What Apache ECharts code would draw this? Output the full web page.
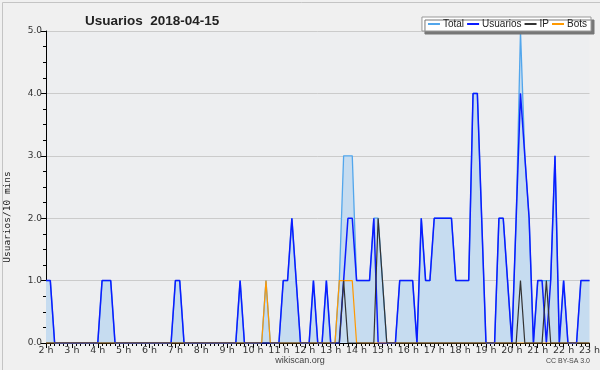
<!DOCTYPE html>
<html>
<head>
<meta charset="utf-8">
<script src="https://cdn.jsdelivr.net/npm/echarts@6/dist/echarts.min.js"></script>
<style>
html,body{margin:0;padding:0;background:#f0f0f0;}
#c{width:600px;height:370px;}
</style>
</head>
<body>
<div id="c"></div>
<script>
// Hours shown on the x axis (each hour has 6 ten-minute slots)
const hours = [2,3,4,5,6,7,8,9,10,11,12,13,14,15,16,17,18,19,20,21,22,23];
const yTicks = [0,1,2,3,4,5];

// Usuarios per 10 minutes, one row per hour
const usuarios = [
  1,1,0,0,0,0,   // 2h
  0,0,0,0,0,0,   // 3h
  0,1,1,1,0,0,   // 4h
  0,0,0,0,0,0,   // 5h
  0,0,0,0,0,0,   // 6h
  1,1,0,0,0,0,   // 7h
  0,0,0,0,0,0,   // 8h
  0,0,0,1,0,0,   // 9h
  0,0,0,0,0,0,   // 10h
  0,1,1,2,1,0,   // 11h
  0,0,1,0,0,1,   // 12h
  0,0,0,1,2,2,   // 13h
  1,1,1,1,2,0,   // 14h
  0,0,0,0,1,1,   // 15h
  1,1,0,2,1,1,   // 16h
  2,2,2,2,2,1,   // 17h
  1,1,1,4,4,2,   // 18h
  0,0,0,2,2,1,   // 19h
  0,2,4,3,2,0,   // 20h
  1,1,0,1,3,0,   // 21h
  1,0,0,0,1,1,   // 22h
  1              // 23h
];
const ip = [
  0,0,0,0,0,0,  0,0,0,0,0,0,  0,0,0,0,0,0,  0,0,0,0,0,0,
  0,0,0,0,0,0,  0,0,0,0,0,0,  0,0,0,0,0,0,  0,0,0,0,0,0,
  0,0,0,0,0,0,  0,0,0,0,0,0,  0,0,0,0,0,0,
  0,0,0,1,0,0,   // 13h
  0,0,0,0,0,2,   // 14h
  1,0,0,0,0,0,   // 15h
  0,0,0,0,0,0,  0,0,0,0,0,0,  0,0,0,0,0,0,  0,0,0,0,0,0,
  0,0,1,0,0,0,   // 20h
  0,0,1,0,0,0,   // 21h
  0,0,0,0,0,0,
  0
];
const bots = [
  0,0,0,0,0,0,  0,0,0,0,0,0,  0,0,0,0,0,0,  0,0,0,0,0,0,
  0,0,0,0,0,0,  0,0,0,0,0,0,  0,0,0,0,0,0,  0,0,0,0,0,0,
  0,0,0,1,0,0,   // 10h
  0,0,0,0,0,0,  0,0,0,0,0,0,
  0,0,1,1,1,1,   // 13h
  0,0,0,0,0,0,  0,0,0,0,0,0,  0,0,0,0,0,0,  0,0,0,0,0,0,
  0,0,0,0,0,0,  0,0,0,0,0,0,  0,0,0,0,0,0,  0,0,0,0,0,0,
  0,0,0,0,0,0,
  0
];
const total = [
  1,1,0,0,0,0,   // 2h
  0,0,0,0,0,0,   // 3h
  0,1,1,1,0,0,   // 4h
  0,0,0,0,0,0,   // 5h
  0,0,0,0,0,0,   // 6h
  1,1,0,0,0,0,   // 7h
  0,0,0,0,0,0,   // 8h
  0,0,0,1,0,0,   // 9h
  0,0,0,1,0,0,   // 10h
  0,1,1,2,1,0,   // 11h
  0,0,1,0,0,1,   // 12h
  0,0,1,3,3,3,   // 13h
  1,1,1,1,2,2,   // 14h
  1,0,0,0,1,1,   // 15h
  1,1,0,2,1,1,   // 16h
  2,2,2,2,2,1,   // 17h
  1,1,1,4,4,2,   // 18h
  0,0,0,2,2,1,   // 19h
  0,2,5,3,2,0,   // 20h
  1,1,1,1,3,0,   // 21h
  1,0,0,0,1,1,   // 22h
  1              // 23h
];

const times = [];
hours.forEach(function(h){
  for (let m = 0; m < 60; m += 10) {
    if (h === hours[hours.length-1] && m > 0) break;
    times.push(h + ':' + (m < 10 ? '0' + m : m));
  }
});

const chart = echarts.init(document.getElementById('c'), null, {renderer:'canvas'});
const isHour = function(i){ return i % 6 === 0; };

chart.setOption({
  animation: false,
  backgroundColor: '#f0f0f0',
  textStyle: {fontFamily: 'Liberation Sans'},
  title: {
    text: 'Usuarios  2018-04-15',
    left: 80, top: 9,
    textStyle: {fontFamily:'Liberation Sans', fontWeight:'bold', fontSize:13.5, color:'#222'}
  },
  legend: {
    right: 9, top: 17,
    itemWidth: 12, itemHeight: 2, itemGap: 3,
    padding: [2, 4, 2, 6],
    backgroundColor: '#ffffff',
    borderColor: '#999', borderWidth: 1,
    shadowColor: '#777', shadowOffsetX: 3, shadowOffsetY: 3, shadowBlur: 0,
    textStyle: {fontFamily:'Liberation Sans', fontSize:10, color:'#222', padding:[0,0,0,-2]},
    icon: 'rect',
    data: ['Total','Usuarios','IP','Bots']
  },
  grid: {left: 46, right: 10.5, top: 31, bottom: 27, show: true, backgroundColor: '#edeef0', borderWidth: 0,
    containLabel: false, outerBoundsMode: 'none'},
  xAxis: [{
    type: 'category', data: times, boundaryGap: false,
    axisLine: {lineStyle: {color:'#000', width:1}},
    axisTick: {interval: function(i){ return isHour(i); }, length: 5, lineStyle:{color:'#000'}},
    axisLabel: {interval: function(i){ return isHour(i); }, formatter: function(v){ return parseInt(v,10) + ' h'; },
      fontFamily:'DejaVu Sans', fontSize: 9.5, color:'#333', margin: 3},
    splitLine: {show:false}
  },{
    type: 'category', data: times, boundaryGap: false, position: 'bottom',
    axisLine: {show:false},
    axisTick: {interval: 0, length: 3, lineStyle:{color:'#000'}},
    axisLabel: {show:false},
    splitLine: {show:false}
  }],
  yAxis: {
    type: 'value', min: yTicks[0], max: yTicks[yTicks.length-1], interval: 1,
    name: 'Usuarios/10 mins', nameLocation: 'middle', nameGap: 33, nameRotate: 90,
    nameTextStyle: {fontFamily:'DejaVu Sans Mono', fontSize: 9.5, color:'#222', padding:[0,0,0,-60]},
    axisLine: {show:true, lineStyle:{color:'#000'}},
    axisTick: {show:true, length: 5, lineStyle:{color:'#000'}},
    minorTick: {show:true, splitNumber: 4, length: 3, lineStyle:{color:'#000'}},
    axisLabel: {formatter: function(v){ return v.toFixed(1); }, fontFamily:'DejaVu Sans', fontSize: 9, color:'#333', margin: 4},
    splitLine: {lineStyle:{color:'#cbcbcb', width:1}},
    minorSplitLine: {show:false}
  },
  series: [
    {name:'Total', type:'line', data: total, symbol:'none', xAxisIndex:0,
      lineStyle:{color:'#52a6ec', width:1.3}, itemStyle:{color:'#52a6ec'},
      areaStyle:{color:'#c6dcf0', opacity:1}, z:2},
    {name:'Usuarios', type:'line', data: usuarios, symbol:'none', xAxisIndex:0,
      lineStyle:{color:'#0a1cff', width:1.5}, itemStyle:{color:'#0a1cff'}, z:3},
    {name:'Bots', type:'line', data: bots, symbol:'none', xAxisIndex:0,
      lineStyle:{color:'#ff9900', width:1.2}, itemStyle:{color:'#ff9900'}, z:4},
    {name:'IP', type:'line', data: ip, symbol:'none', xAxisIndex:0,
      lineStyle:{color:'#333333', width:1.2}, itemStyle:{color:'#333333'}, z:5}
  ],
  graphic: [
    {type:'rect', left:0, top:0, z:-1, silent:true, shape:{x:0.5, y:0.5, width:599, height:369},
      style:{fill:'none', stroke:'#c4c4c4', lineWidth:1}},
    {type:'text', left:'center', top: 356, style:{text:'wikiscan.org', font:'9px "Liberation Sans"', fill:'#444'}},
    {type:'text', right: 10, top: 358, style:{text:'CC BY-SA 3.0', font:'7px "Liberation Sans"', fill:'#444'}}
  ]
});
</script>
</body>
</html>
